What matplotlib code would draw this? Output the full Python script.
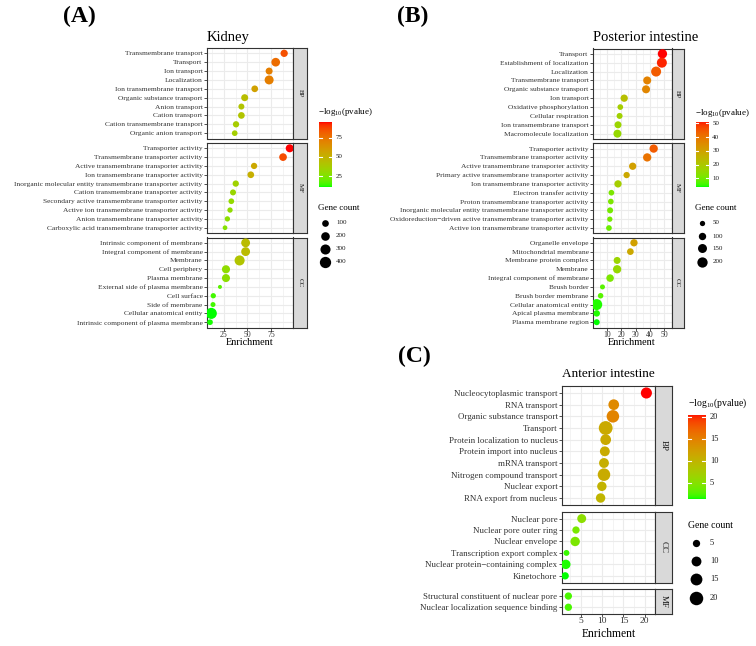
import numpy as np
import matplotlib
matplotlib.use("Agg")
import matplotlib.pyplot as plt

plt.rcParams['font.family'] = ['Liberation Serif', 'DejaVu Serif']
plt.rcParams['mathtext.fontset'] = 'custom'
plt.rcParams['mathtext.rm'] = 'Liberation Serif'
plt.rcParams['mathtext.it'] = 'Liberation Serif:italic'

# ---------------- DATA ----------------
# Kidney
kidney_bp_terms = ["Transmembrane transport", "Transport", "Ion transport", "Localization",
                   "Ion transmembrane transport", "Organic substance transport", "Anion transport",
                   "Cation transport", "Cation transmembrane transport", "Organic anion transport"]
kidney_bp_enrich = [89, 80, 73, 73, 57.7, 47, 43.5, 43.5, 37.8, 36.4]
kidney_bp_logp = [86, 78, 72, 72, 58, 45, 42, 42, 38, 37]
kidney_bp_count = [128, 205, 113, 225, 100, 113, 72, 100, 83, 61]

kidney_mf_terms = ["Transporter activity", "Transmembrane transporter activity",
                   "Active transmembrane transporter activity", "Ion transmembrane transporter activity",
                   "Inorganic molecular entity transmembrane transporter activity",
                   "Cation transmembrane transporter activity",
                   "Secondary active transmembrane transporter activity",
                   "Active ion transmembrane transporter activity",
                   "Anion transmembrane transporter activity",
                   "Carboxylic acid transmembrane transporter activity"]
kidney_mf_enrich = [94.9, 87.8, 57, 53.5, 37.5, 34.6, 32.8, 31.4, 28.6, 26.1]
kidney_mf_logp = [95.7, 87, 55, 52, 35, 33, 31, 30, 29, 27]
kidney_mf_count = [165, 147, 83, 100, 83, 72, 61, 49, 49, 32]

kidney_cc_terms = ["Intrinsic component of membrane", "Integral component of membrane", "Membrane",
                   "Cell periphery", "Plasma membrane", "External side of plasma membrane",
                   "Cell surface", "Side of membrane", "Cellular anatomical entity",
                   "Intrinsic component of plasma membrane"]
kidney_cc_enrich = [48, 48, 41.6, 27.1, 27.1, 20.7, 13.6, 13.3, 11.5, 10.1]
kidney_cc_logp = [46, 46, 42, 30, 29, 18, 15, 15, 11.5, 12]
kidney_cc_count = [215, 215, 300, 170, 165, 17, 48, 40, 380, 61]

kidney_xticks = [25, 50, 75]
kidney_color_breaks = [25, 50, 75]
kidney_size_breaks = [100, 200, 300, 400]

# Posterior intestine
post_bp_terms = ["Transport", "Establishment of localization", "Localization", "Transmembrane transport",
                 "Organic substance transport", "Ion transport", "Oxidative phosphorylation",
                 "Cellular respiration", "Ion transmembrane transport", "Macromolecule localization"]
post_bp_enrich = [48.7, 48.3, 44.3, 38.1, 37.3, 22.1, 19.4, 18.9, 17.8, 17.4]
post_bp_logp = [51.2, 50, 44, 37, 36, 22, 18, 17, 16, 15]
post_bp_count = [162, 188, 188, 119, 119, 98, 58, 65, 90, 119]

post_mf_terms = ["Transporter activity", "Transmembrane transporter activity",
                 "Active transmembrane transporter activity",
                 "Primary active transmembrane transporter activity",
                 "Ion transmembrane transporter activity", "Electron transfer activity",
                 "Proton transmembrane transporter activity",
                 "Inorganic molecular entity transmembrane transporter activity",
                 "Oxidoreduction\u2212driven active transmembrane transporter activity",
                 "Active ion transmembrane transporter activity"]
post_mf_enrich = [42.6, 38.1, 28.0, 23.8, 17.8, 13.2, 12.8, 12.3, 12.1, 11.5]
post_mf_logp = [44, 40, 30, 28, 18, 11, 11, 10, 10, 9]
post_mf_count = [128, 128, 98, 72, 98, 58, 58, 65, 50, 58]

post_cc_terms = ["Organelle envelope", "Mitochondrial membrane", "Membrane protein complex", "Membrane",
                 "Integral component of membrane", "Brush border", "Brush border membrane",
                 "Cellular anatomical entity", "Apical plasma membrane", "Plasma membrane region"]
post_cc_enrich = [28.9, 26.4, 17.2, 17.2, 12.3, 7.0, 5.7, 3.0, 3.0, 3.0]
post_cc_logp = [30, 28, 16, 15, 11, 7, 7, 4, 4, 3.5]
post_cc_count = [98, 82, 90, 128, 104, 44, 54, 229, 77, 65]

post_xticks = [10, 20, 30, 40, 50]
post_color_breaks = [10, 20, 30, 40, 50]
post_size_breaks = [50, 100, 150, 200]

# Anterior intestine
ant_bp_terms = ["Nucleocytoplasmic transport", "RNA transport", "Organic substance transport", "Transport",
                "Protein localization to nucleus", "Protein import into nucleus", "mRNA transport",
                "Nitrogen compound transport", "Nuclear export", "RNA export from nucleus"]
ant_bp_enrich = [20.4, 12.7, 12.5, 10.8, 10.8, 10.6, 10.4, 10.4, 9.9, 9.6]
ant_bp_logp = [20.4, 14, 14.5, 11, 11, 10.8, 10.5, 10.8, 10, 9.8]
ant_bp_count = [13, 12, 17, 21, 12, 10, 10, 17, 9, 9]

ant_cc_terms = ["Nuclear pore", "Nuclear pore outer ring", "Nuclear envelope",
                "Transcription export complex", "Nuclear protein\u2212containing complex", "Kinetochore"]
ant_cc_enrich = [5.15, 3.8, 3.6, 1.55, 1.4, 1.25]
ant_cc_logp = [5.2, 4, 4.2, 1.8, 1.4, 1.23]
ant_cc_count = [8, 5, 9, 3, 9, 5]

ant_mf_terms = ["Structural constituent of nuclear pore", "Nuclear localization sequence binding"]
ant_mf_enrich = [2.0, 2.0]
ant_mf_logp = [2.2, 2.2]
ant_mf_count = [5, 5]

ant_xticks = [5, 10, 15, 20]
ant_color_breaks = [5, 10, 15, 20]
ant_size_breaks = [5, 10, 15, 20]

# ---------------- COLOUR (Lab interpolation green -> red) ----------------
M = np.array([[0.4124564, 0.3575761, 0.1804375],
              [0.2126729, 0.7151522, 0.0721750],
              [0.0193339, 0.1191920, 0.9503041]])
WP = np.array([0.95047, 1.0, 1.08883])


def srgb2lab(rgb):
    rgb = np.asarray(rgb, float)
    lin = np.where(rgb <= 0.04045, rgb / 12.92, ((rgb + 0.055) / 1.055) ** 2.4)
    r = (lin @ M.T) / WP
    f = np.where(r > 216 / 24389, np.cbrt(r), (24389 / 27 * r + 16) / 116)
    return np.stack([116 * f[..., 1] - 16, 500 * (f[..., 0] - f[..., 1]), 200 * (f[..., 1] - f[..., 2])], -1)


def lab2srgb(lab):
    L, a, b = lab[..., 0], lab[..., 1], lab[..., 2]
    fy = (L + 16) / 116
    fx = fy + a / 500
    fz = fy - b / 200

    def finv(f):
        return np.where(f ** 3 > 216 / 24389, f ** 3, (116 * f - 16) / (24389 / 27))
    xyz = np.stack([finv(fx), finv(fy), finv(fz)], -1) * WP
    lin = np.clip(xyz @ np.linalg.inv(M).T, 0, 1)
    return np.clip(np.where(lin <= 0.0031308, 12.92 * lin, 1.055 * lin ** (1 / 2.4) - 0.055), 0, 1)


LO = srgb2lab([0, 1, 0])
HI = srgb2lab([1, 0, 0])


def grad(t):
    t = np.clip(np.asarray(t, float), 0, 1)
    lab = LO[None, :] * (1 - t[:, None]) + HI[None, :] * t[:, None]
    return lab2srgb(lab)


# ---------------- FIGURE ----------------
W, H = 756, 646
fig = plt.figure(figsize=(W / 100, H / 100), dpi=100)
fig.patch.set_facecolor('white')


def px_axes(x0, y0, x1, y1, z=1):
    return fig.add_axes([x0 / W, 1 - y1 / H, (x1 - x0) / W, (y1 - y0) / H], zorder=z)


ov = fig.add_axes([0, 0, 1, 1], zorder=10)
ov.set_xlim(0, W)
ov.set_ylim(H, 0)
ov.axis('off')
ov.patch.set_alpha(0)

DARK = '#333333'


def facet(x0, x1, xs, y0, y1, terms, enrich, logp, count, xlim, majors, strip, bottom,
          vmin, vmax, d0, k, fs_lab, fs_tick, fs_strip):
    ax = px_axes(x0, y0, x1, y1)
    n = len(terms)
    ax.set_xlim(*xlim)
    ax.set_ylim(n - 1 + 0.6, -0.6)
    ax.set_xticks(majors)
    step = majors[1] - majors[0]
    minors = [m - step / 2 for m in majors] + [majors[-1] + step / 2]
    ax.set_xticks(minors, minor=True)
    ax.set_yticks(np.arange(n))
    ax.set_yticklabels(terms, fontsize=fs_lab, color=DARK)
    ax.grid(True, which='major', color='#EBEBEB', lw=0.8)
    ax.grid(True, which='minor', axis='x', color='#EBEBEB', lw=0.4)
    ax.set_axisbelow(True)
    ax.tick_params(which='minor', length=0)
    ax.tick_params(axis='y', length=2, width=0.6, color=DARK, pad=1)
    if bottom:
        ax.set_xticklabels([str(m) for m in majors], fontsize=fs_tick, color=DARK)
        ax.tick_params(axis='x', length=2, width=0.6, color=DARK, pad=0.5)
    else:
        ax.tick_params(axis='x', bottom=False, labelbottom=False)
    for sp in ax.spines.values():
        sp.set_color(DARK)
        sp.set_linewidth(0.8)
    cols = grad((np.array(logp) - vmin) / (vmax - vmin))
    diam = d0 + k * np.sqrt(np.array(count, float))
    ax.scatter(enrich, np.arange(n), s=(diam * 0.72) ** 2, c=cols, linewidths=0, zorder=3)
    sa = px_axes(x1, y0, xs, y1)
    sa.set_facecolor('#D9D9D9')
    sa.set_xticks([])
    sa.set_yticks([])
    for sp in sa.spines.values():
        sp.set_color(DARK)
        sp.set_linewidth(0.8)
    sa.text(0.5, 0.5, strip, rotation=-90, ha='center', va='center', fontsize=fs_strip,
            color='#1A1A1A', transform=sa.transAxes)
    return ax


def colorbar(bx0, bx1, by0, by1, vmin, vmax, breaks, lab_x, title_xy, fs_title, fs_lab):
    cax = px_axes(bx0, by0, bx1, by1, z=2)
    t = np.linspace(1, 0, 200)
    img = grad(t).reshape(200, 1, 3)
    cax.imshow(img, aspect='auto', extent=(0, 1, 0, 1))
    cax.axis('off')
    bw = bx1 - bx0
    for b in breaks:
        y = by1 - (b - vmin) / (vmax - vmin) * (by1 - by0)
        ov.plot([bx0, bx0 + bw / 5], [y, y], color='white', lw=0.8)
        ov.plot([bx1 - bw / 5, bx1], [y, y], color='white', lw=0.8)
        ov.text(lab_x, y, str(b), fontsize=fs_lab, ha='left', va='center', color='#1A1A1A')
    ov.text(title_xy[0], title_xy[1], r'$\mathrm{-log_{10}(pvalue)}$', fontsize=fs_title,
            ha='left', va='center', color='black')


def size_legend(breaks, ys, dot_x, lab_x, title_xy, d0, k, fs_title, fs_lab):
    ov.text(title_xy[0], title_xy[1], 'Gene count', fontsize=fs_title, ha='left', va='center')
    for b, y in zip(breaks, ys):
        d = d0 + k * np.sqrt(b)
        ov.scatter([dot_x], [y], s=(d * 0.72) ** 2, color='black', linewidths=0)
        ov.text(lab_x, y, str(b), fontsize=fs_lab, ha='left', va='center', color='#1A1A1A')


# ---- Panel A: Kidney ----
kv = [kidney_bp_logp, kidney_mf_logp, kidney_cc_logp]
kmin = min(min(v) for v in kv)
kmax = max(max(v) for v in kv)
KX0, KX1, KXS = 206.7, 293, 307
kxlim = (6.6, 98.4)
kd0, kk = 2.1, 0.46
facet(KX0, KX1, KXS, 48, 138.5, kidney_bp_terms, kidney_bp_enrich, kidney_bp_logp, kidney_bp_count,
      kxlim, kidney_xticks, 'BP', False, kmin, kmax, kd0, kk, 5.4, 5.6, 5)
facet(KX0, KX1, KXS, 143, 233, kidney_mf_terms, kidney_mf_enrich, kidney_mf_logp, kidney_mf_count,
      kxlim, kidney_xticks, 'MF', False, kmin, kmax, kd0, kk, 5.4, 5.6, 5)
facet(KX0, KX1, KXS, 237.5, 327.5, kidney_cc_terms, kidney_cc_enrich, kidney_cc_logp, kidney_cc_count,
      kxlim, kidney_xticks, 'CC', True, kmin, kmax, kd0, kk, 5.4, 5.6, 5)
ov.text(KX0, 41, 'Kidney', fontsize=10.5, ha='left', va='baseline')
ov.text((KX0 + KX1) / 2, 342.7, 'Enrichment', fontsize=7.4, ha='center', va='center')
ov.text(79.7, 22, '(A)', fontsize=17, fontweight='bold', ha='center', va='baseline')
colorbar(319, 331.7, 121.7, 186.7, kmin, kmax, kidney_color_breaks, 335.7, (318, 111.7), 6.5, 5)
size_legend(kidney_size_breaks, [222.7, 235.7, 249, 261.7], 325, 336, (318, 208), kd0, kk, 6.5, 5)

# ---- Panel B: Posterior intestine ----
pv = [post_bp_logp, post_mf_logp, post_cc_logp]
pmin = min(min(v) for v in pv)
pmax = max(max(v) for v in pv)
PX0, PX1, PXS = 592.7, 671.5, 683.5
pxlim = (0.2, 52.4)
pd0, pk = 0.3, 0.707
facet(PX0, PX1, PXS, 48.5, 139, post_bp_terms, post_bp_enrich, post_bp_logp, post_bp_count,
      pxlim, post_xticks, 'BP', False, pmin, pmax, pd0, pk, 5.4, 5.6, 5)
facet(PX0, PX1, PXS, 143.3, 233.3, post_mf_terms, post_mf_enrich, post_mf_logp, post_mf_count,
      pxlim, post_xticks, 'MF', False, pmin, pmax, pd0, pk, 5.4, 5.6, 5)
facet(PX0, PX1, PXS, 237.5, 327.5, post_cc_terms, post_cc_enrich, post_cc_logp, post_cc_count,
      pxlim, post_xticks, 'CC', True, pmin, pmax, pd0, pk, 5.4, 5.6, 5)
ov.text(PX0, 41, 'Posterior intestine', fontsize=10.5, ha='left', va='baseline')
ov.text((PX0 + PX1) / 2, 342.7, 'Enrichment', fontsize=7.4, ha='center', va='center')
ov.text(413, 22, '(B)', fontsize=17, fontweight='bold', ha='center', va='baseline')
colorbar(695.7, 708, 121.7, 187.3, pmin, pmax, post_color_breaks, 712.3, (695, 112.7), 6.5, 5)
size_legend(post_size_breaks, [222.7, 236, 248.3, 261.7], 701.7, 712.7, (695, 208.3), pd0, pk, 6.5, 5)

# ---- Panel C: Anterior intestine ----
av = [ant_bp_logp, ant_cc_logp, ant_mf_logp]
amin = min(min(v) for v in av)
amax = max(max(v) for v in av)
AX0, AX1, AXS = 561.7, 655.3, 672
axlim = (0.43, 21.5)
ad0, ak = 1.1, 2.77
facet(AX0, AX1, AXS, 386, 505, ant_bp_terms, ant_bp_enrich, ant_bp_logp, ant_bp_count,
      axlim, ant_xticks, 'BP', False, amin, amax, ad0, ak, 6.4, 6.8, 6.5)
facet(AX0, AX1, AXS, 511.7, 582.7, ant_cc_terms, ant_cc_enrich, ant_cc_logp, ant_cc_count,
      axlim, ant_xticks, 'CC', False, amin, amax, ad0, ak, 6.4, 6.8, 6.5)
facet(AX0, AX1, AXS, 589.3, 614, ant_mf_terms, ant_mf_enrich, ant_mf_logp, ant_mf_count,
      axlim, ant_xticks, 'MF', True, amin, amax, ad0, ak, 6.4, 6.8, 6.5)
ov.text(AX0, 377, 'Anterior intestine', fontsize=9.5, ha='left', va='baseline')
ov.text((AX0 + AX1) / 2, 634.3, 'Enrichment', fontsize=8.4, ha='center', va='center')
ov.text(414, 362, '(C)', fontsize=17, fontweight='bold', ha='center', va='baseline')
colorbar(687.7, 705, 415, 499.3, amin, amax, ant_color_breaks, 710, (688, 403.3), 7, 6)
size_legend(ant_size_breaks, [542.7, 561, 579, 598], 696, 710, (688, 525), ad0, ak, 7, 6)

fig.savefig('out.png', dpi=100, facecolor='white')
